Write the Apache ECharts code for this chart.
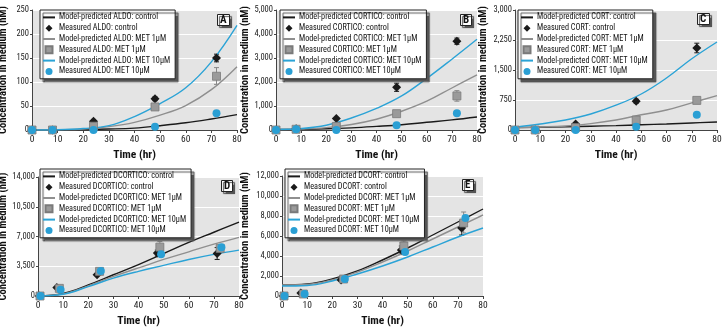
<!DOCTYPE html>
<html><head><meta charset="utf-8">
<script src="https://cdn.jsdelivr.net/npm/echarts@6/dist/echarts.min.js"></script>
<style>html,body{margin:0;padding:0;background:#fff}#c{width:726px;height:332px}</style>
</head><body><div id="c"></div>
<script>
// ---------- shared ----------
const xTickLabels = [0, 10, 20, 30, 40, 50, 60, 70, 80];
const modelTime = [0, 10, 20, 30, 40, 50, 60, 70, 80];
const conditions = ['control', 'MET 1μM', 'MET 10μM'];

// ---------- Panel A: ALDO ----------
const aldoYTicks = [0, 50, 100, 150, 200, 250];
const aldoModelControl = [0, 0.5, 1, 2, 4, 9, 15, 23, 32];
const aldoModelMet1 = [0, 0.5, 2, 7, 16, 31, 51, 84, 132];
const aldoModelMet10 = [0, 0.5, 3, 9, 28, 55, 88, 142, 218];
const aldoTimeControl = [0, 8, 24, 48, 72];
const aldoTimeMet1 = [0, 8, 24, 48, 72];
const aldoTimeMet10 = [0, 8, 24, 48, 72];
const aldoMeasControl = [0, 0, 18, 65, 150];
const aldoMeasMet1 = [0, 0, 8, 48, 112];
const aldoMeasMet10 = [0, 0, 0, 7, 35];
const aldoErrControl = [[24, 14, 22], [48, 61, 69], [72, 142, 158]];
const aldoErrMet1 = [[72, 95, 130]];

// ---------- Panel B: CORTICO ----------
const corticoYTicks = [0, 1000, 2000, 3000, 4000, 5000];
const corticoModelControl = [20, 30, 50, 90, 150, 220, 320, 420, 540];
const corticoModelMet1 = [20, 40, 100, 230, 450, 780, 1200, 1750, 2300];
const corticoModelMet10 = [20, 60, 200, 500, 900, 1420, 2150, 2950, 3780];
const corticoTimeControl = [0, 8, 24, 48, 72];
const corticoTimeMet1 = [0, 8, 24, 48, 72];
const corticoTimeMet10 = [0, 8, 24, 48, 72];
const corticoMeasControl = [0, 50, 480, 1780, 3700];
const corticoMeasMet1 = [0, 30, 150, 680, 1420];
const corticoMeasMet10 = [0, 30, 0, 200, 700];
const corticoErrControl = [[48, 1610, 1950], [72, 3570, 3830]];
const corticoErrMet1 = [[48, 600, 760], [72, 1200, 1640]];

// ---------- Panel C: CORT ----------
const cortYTicks = [0, 750, 1500, 2250, 3000];
const cortModelControl = [60, 70, 80, 95, 110, 130, 150, 175, 200];
const cortModelMet1 = [60, 75, 100, 160, 250, 380, 500, 680, 860];
const cortModelMet10 = [70, 150, 250, 400, 620, 900, 1300, 1780, 2200];
const cortTimeControl = [0, 8, 24, 48, 72];
const cortTimeMet1 = [0, 8, 24, 48, 72];
const cortTimeMet10 = [0, 8, 24, 48, 72];
const cortMeasControl = [0, 0, 150, 720, 2050];
const cortMeasMet1 = [0, 0, 60, 250, 740];
const cortMeasMet10 = [0, 0, 0, 80, 380];
const cortErrControl = [[48, 670, 770], [72, 1930, 2170]];
const cortErrMet1 = [[72, 680, 800]];

// ---------- Panel D: DCORTICO ----------
const dcorticoYTicks = [0, 3500, 7000, 10500, 14000];
const dcorticoModelControl = [0, 300, 1300, 2500, 3700, 5000, 6300, 7500, 8700];
const dcorticoModelMet1 = [0, 250, 1200, 2300, 3300, 4300, 5200, 6100, 6900];
const dcorticoModelMet10 = [0, 200, 1100, 2100, 2900, 3600, 4300, 4900, 5400];
const dcorticoTimeControl = [0.5, 7.5, 23.5, 47.5, 71.3];
const dcorticoTimeMet1 = [0.8, 8.5, 24.5, 48.5, 72.5];
const dcorticoTimeMet10 = [1, 9, 25, 49, 73];
const dcorticoMeasControl = [0, 1000, 2500, 5050, 5000];
const dcorticoMeasMet1 = [0, 900, 2900, 5750, 5600];
const dcorticoMeasMet10 = [0, 750, 2950, 4900, 5750];
const dcorticoErrControl = [[71.3, 4300, 5700], [47.5, 4700, 5400]];
const dcorticoErrMet1 = [[48.5, 5100, 6400], [24.5, 2700, 3100]];

// ---------- Panel E: DCORT ----------
const dcortYTicks = [0, 2000, 4000, 6000, 8000, 10000, 12000];
const dcortModelControl = [1100, 1200, 1700, 2500, 3600, 4800, 6100, 7400, 8700];
const dcortModelMet1 = [1100, 1150, 1600, 2400, 3400, 4500, 5700, 6900, 8100];
const dcortModelMet10 = [1000, 1050, 1500, 2200, 3000, 3900, 4900, 5900, 6800];
const dcortTimeControl = [0.5, 7.5, 23.5, 47.5, 71.5];
const dcortTimeMet1 = [0.8, 8.5, 24.5, 48.5, 72.3];
const dcortTimeMet10 = [1, 9, 25, 49, 73];
const dcortMeasControl = [0, 300, 1600, 4600, 6800];
const dcortMeasMet1 = [0, 200, 1700, 5000, 7300];
const dcortMeasMet10 = [0, 200, 1700, 4400, 7800];
const dcortErrControl = [[71.5, 6100, 7500], [47.5, 4200, 5000]];
const dcortErrMet1 = [[48.5, 4500, 5500], [72.3, 6300, 8400]];

// ---------- rendering ----------
const FONT = "'Roboto Condensed', 'Liberation Sans', Arial, sans-serif";
const BLACK = '#1a1a1a', GRAY = '#8f8f8f', BLUE = '#2ba3d6';
const zip = (xs, ys) => xs.map((x, i) => [x, ys[i]]);

const panels = [
  {hormone: 'ALDO', letter: 'A', ticks: aldoYTicks,
   model: [aldoModelControl, aldoModelMet1, aldoModelMet10],
   time: [aldoTimeControl, aldoTimeMet1, aldoTimeMet10],
   meas: [aldoMeasControl, aldoMeasMet1, aldoMeasMet10],
   err: [aldoErrControl, aldoErrMet1], nameGap: 23,
   grid: {left: 32, width: 205, top: 10, height: 120},
   legend: {left: 40, top: 10}, label: {left: 217, top: 14}},
  {hormone: 'CORTICO', letter: 'B', ticks: corticoYTicks,
   model: [corticoModelControl, corticoModelMet1, corticoModelMet10],
   time: [corticoTimeControl, corticoTimeMet1, corticoTimeMet10],
   meas: [corticoMeasControl, corticoMeasMet1, corticoMeasMet10],
   err: [corticoErrControl, corticoErrMet1], nameGap: 25,
   grid: {left: 276, width: 201, top: 10, height: 120},
   legend: {left: 280, top: 10}, label: {left: 460, top: 14}},
  {hormone: 'CORT', letter: 'C', ticks: cortYTicks,
   model: [cortModelControl, cortModelMet1, cortModelMet10],
   time: [cortTimeControl, cortTimeMet1, cortTimeMet10],
   meas: [cortMeasControl, cortMeasMet1, cortMeasMet10],
   err: [cortErrControl, cortErrMet1], nameGap: 26,
   grid: {left: 515, width: 202, top: 10, height: 120},
   legend: {left: 518, top: 10}, label: {left: 697, top: 13}},
  {hormone: 'DCORTICO', letter: 'D', ticks: dcorticoYTicks,
   model: [dcorticoModelControl, dcorticoModelMet1, dcorticoModelMet10],
   time: [dcorticoTimeControl, dcorticoTimeMet1, dcorticoTimeMet10],
   meas: [dcorticoMeasControl, dcorticoMeasMet1, dcorticoMeasMet10],
   err: [dcorticoErrControl, dcorticoErrMet1], nameGap: 27,
   grid: {left: 38, width: 201, top: 177, height: 119},
   legend: {left: 40, top: 169}, label: {left: 221, top: 180}},
  {hormone: 'DCORT', letter: 'E', ticks: dcortYTicks,
   model: [dcortModelControl, dcortModelMet1, dcortModelMet10],
   time: [dcortTimeControl, dcortTimeMet1, dcortTimeMet10],
   meas: [dcortMeasControl, dcortMeasMet1, dcortMeasMet10],
   err: [dcortErrControl, dcortErrMet1], nameGap: 31,
   grid: {left: 282, width: 201, top: 176, height: 120},
   legend: {left: 285, top: 169}, label: {left: 462, top: 179}}
];

const grids = [], xAxes = [], yAxes = [], series = [], legends = [], titles = [];
const lineColors = [BLACK, GRAY, BLUE];
const symbols = ['diamond', 'rect', 'circle'];
const legendIcons = ['path://M5,0L10,5L5,10L0,5Z', 'path://M0,0L10,0L10,10L0,10Z', 'circle'];
const symSizes = [9, 8, 8];
const measColors = [BLACK, '#9a9a9a', '#2a9fd4'];

function errSeries(data, color, idx) {
  return {
    type: 'custom', name: 'err' + idx + color, xAxisIndex: idx, yAxisIndex: idx, data: data, z: 1, silent: true,
    encode: {x: 0, y: [1, 2]},
    renderItem: (params, api) => {
      const x = api.value(0), lo = api.value(1), hi = api.value(2);
      const p1 = api.coord([x, lo]), p2 = api.coord([x, hi]);
      const w = 2.5, st = {stroke: color, lineWidth: 1};
      return {type: 'group', children: [
        {type: 'line', shape: {x1: p1[0], y1: p1[1], x2: p2[0], y2: p2[1]}, style: st},
        {type: 'line', shape: {x1: p1[0] - w, y1: p1[1], x2: p1[0] + w, y2: p1[1]}, style: st},
        {type: 'line', shape: {x1: p2[0] - w, y1: p2[1], x2: p2[0] + w, y2: p2[1]}, style: st}
      ]};
    }
  };
}

panels.forEach((p, i) => {
  grids.push(Object.assign({backgroundColor: '#e4e4e4', show: true, borderWidth: 0, outerBoundsMode: 'none', containLabel: false}, p.grid));
  xAxes.push({
    type: 'value', gridIndex: i, min: xTickLabels[0], max: xTickLabels[xTickLabels.length - 1], interval: 10,
    name: 'Time (hr)', nameLocation: 'middle', nameGap: 19,
    nameTextStyle: {fontFamily: FONT, fontWeight: 'bold', fontSize: 11.5, color: '#111'},
    axisLine: {show: true, lineStyle: {color: '#444', width: 1}},
    axisTick: {show: true, length: 3, lineStyle: {color: '#444'}},
    axisLabel: {fontFamily: FONT, fontSize: 9.5, color: '#222', margin: 5},
    splitLine: {show: false}
  });
  const step = p.ticks[1] - p.ticks[0];
  yAxes.push({
    type: 'value', gridIndex: i, min: p.ticks[0], max: p.ticks[p.ticks.length - 1], interval: step,
    name: 'Concentration in medium (nM)', nameLocation: 'middle', nameGap: p.nameGap,
    nameTextStyle: {fontFamily: FONT, fontWeight: 'bold', fontSize: 10.5, color: '#111'},
    axisLine: {show: true, lineStyle: {color: '#444', width: 1}},
    axisTick: {show: true, length: 2, lineStyle: {color: '#444'}},
    axisLabel: {fontFamily: FONT, fontSize: 8.5, color: '#222', margin: 3,
      formatter: v => v.toLocaleString('en-US')},
    splitLine: {show: true, lineStyle: {color: '#ffffff', width: 1}}
  });
  const legendData = [];
  conditions.forEach((c, k) => {
    const mName = 'Model-predicted ' + p.hormone + ': ' + c;
    const sName = 'Measured ' + p.hormone + ': ' + c;
    legendData.push({name: mName, itemStyle: {opacity: 0}});
    legendData.push({name: sName, icon: legendIcons[k]});
    series.push({
      type: 'line', name: mName, xAxisIndex: i, yAxisIndex: i, smooth: 0.4, symbol: 'none',
      data: zip(modelTime, p.model[k]), lineStyle: {color: lineColors[k], width: 1.4},
      itemStyle: {color: lineColors[k]}, z: 2
    });
    series.push({
      type: 'scatter', name: sName, xAxisIndex: i, yAxisIndex: i, symbol: symbols[k], symbolSize: symSizes[k],
      data: zip(p.time[k], p.meas[k]),
      itemStyle: {color: measColors[k], borderColor: k === 1 ? '#7a7a7a' : measColors[k], borderWidth: k === 1 ? 0.8 : 0, opacity: 1}, z: 3
    });
  });
  if (p.err[0]) series.push(errSeries(p.err[0], BLACK, i));
  if (p.err[1]) series.push(errSeries(p.err[1], '#888', i));
  legends.push({
    orient: 'vertical', left: p.legend.left, top: p.legend.top, data: legendData, selectedMode: false,
    padding: [2, 5, 2, 2], itemGap: 0, itemWidth: 12, itemHeight: 7,
    backgroundColor: '#fff', borderColor: '#222', borderWidth: 1,
    shadowColor: '#555', shadowOffsetX: 3, shadowOffsetY: 3, shadowBlur: 1,
    textStyle: {fontFamily: FONT, fontSize: 8.2, color: '#111', lineHeight: 10.8, padding: [0, 0, 0, -1]}
  });
  titles.push({
    text: p.letter, left: p.label.left, top: p.label.top, padding: [1, 3, 0, 3],
    backgroundColor: '#fff', borderColor: '#222', borderWidth: 1,
    shadowColor: '#555', shadowOffsetX: 2, shadowOffsetY: 2, shadowBlur: 1,
    textStyle: {fontFamily: FONT, fontWeight: 'bold', fontSize: 11, color: '#111'}
  });
});

const chart = echarts.init(document.getElementById('c'), null, {renderer: 'canvas'});
chart.setOption({
  animation: false, backgroundColor: '#fff',
  title: titles, grid: grids, xAxis: xAxes, yAxis: yAxes, legend: legends, series: series
});
</script></body></html>
